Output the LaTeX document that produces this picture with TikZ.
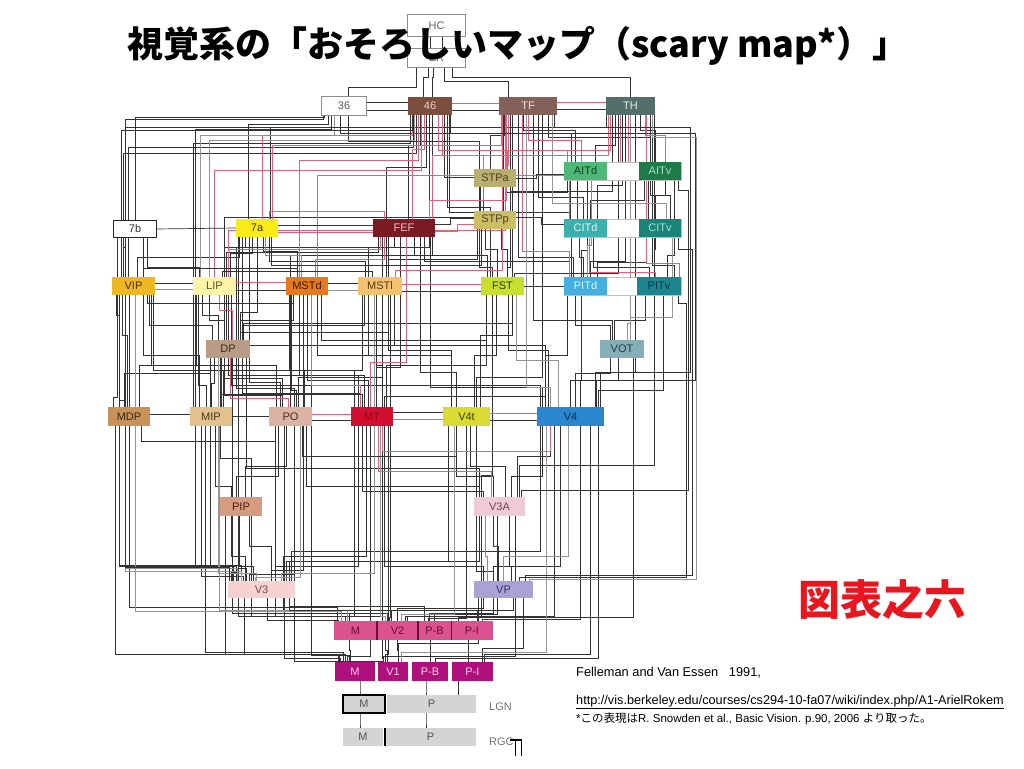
\documentclass[tikz,border=0pt]{standalone}
\usepackage{fontspec}
\setmainfont{Liberation Sans}
\newfontfamily\jp{Noto Sans CJK JP}
\usetikzlibrary{calc}
\pgfdeclarelayer{bg}
\pgfsetlayers{bg,main}
\definecolor{w46}{HTML}{7B4E3E}\definecolor{t46}{HTML}{F0D0C8}
\definecolor{wTF}{HTML}{836058}\definecolor{tTF}{HTML}{F2E2E2}
\definecolor{wTH}{HTML}{536F6C}\definecolor{tTH}{HTML}{E0EEEE}
\definecolor{wSTPa}{HTML}{B9AD70}\definecolor{tSTP}{HTML}{4A4020}
\definecolor{wSTPp}{HTML}{CBBD66}
\definecolor{wAITd}{HTML}{4DB878}\definecolor{tAITd}{HTML}{10401F}
\definecolor{wAITv}{HTML}{1E7A48}\definecolor{tAITv}{HTML}{A8E6B8}
\definecolor{wCITd}{HTML}{3BB0AC}\definecolor{tCITd}{HTML}{DDF5F3}
\definecolor{wCITv}{HTML}{1B8478}\definecolor{tCITv}{HTML}{9FE3DA}
\definecolor{wPITd}{HTML}{45B0E0}\definecolor{tPITd}{HTML}{DFF3FB}
\definecolor{wPITv}{HTML}{1D8590}\definecolor{tPITv}{HTML}{0B3540}
\definecolor{wVOT}{HTML}{86AEB6}\definecolor{tVOT}{HTML}{1E3E48}
\definecolor{w7a}{HTML}{F8EC1A}\definecolor{t7a}{HTML}{3A3000}
\definecolor{wFEF}{HTML}{7A1A24}\definecolor{tFEF}{HTML}{F0C0C4}
\definecolor{wVIP}{HTML}{EDB824}\definecolor{tVIP}{HTML}{4A3000}
\definecolor{wLIP}{HTML}{FFF4A8}\definecolor{tLIP}{HTML}{5A5020}
\definecolor{wMSTd}{HTML}{E37A20}\definecolor{tMSTd}{HTML}{3A1800}
\definecolor{wMSTl}{HTML}{F4C270}\definecolor{tMSTl}{HTML}{5A3810}
\definecolor{wFST}{HTML}{C8DE30}\definecolor{tFST}{HTML}{2A3A00}
\definecolor{wDP}{HTML}{B99C88}\definecolor{tDP}{HTML}{3A2A20}
\definecolor{wMDP}{HTML}{C8925A}\definecolor{tMDP}{HTML}{3A2410}
\definecolor{wMIP}{HTML}{E4C08C}\definecolor{tMIP}{HTML}{4A3820}
\definecolor{wPO}{HTML}{DCB2A2}\definecolor{tPO}{HTML}{4A2A20}
\definecolor{wMT}{HTML}{D20F30}\definecolor{tMT}{HTML}{8A0818}
\definecolor{wV4t}{HTML}{DADA32}\definecolor{tV4t}{HTML}{404000}
\definecolor{wV4}{HTML}{2A86CF}\definecolor{tV4}{HTML}{0A2A50}
\definecolor{wPIP}{HTML}{D69C82}\definecolor{tPIP}{HTML}{4A2010}
\definecolor{wV3A}{HTML}{F2CAD6}\definecolor{tV3A}{HTML}{6A4050}
\definecolor{wV3}{HTML}{F8D2D2}\definecolor{tV3}{HTML}{7A4A4A}
\definecolor{wVP}{HTML}{AAA2D4}\definecolor{tVP}{HTML}{3A3070}
\definecolor{wVtwo}{HTML}{DA5290}\definecolor{tVtwo}{HTML}{6A0E3A}
\definecolor{wVone}{HTML}{B0107C}\definecolor{tVone}{HTML}{F8D0E8}
\definecolor{wLG}{HTML}{D4D4D4}\definecolor{tLG}{HTML}{555555}
\definecolor{pinkw}{HTML}{E2607A}
\definecolor{redt}{HTML}{E8161E}
\newcommand\mkarea[8]{\node[area,fill=#6,text=#7,minimum width=#4pt,minimum height=#5pt] (#1) at (#2,#3) {#8};}
\begin{document}
\begin{tikzpicture}[x=1pt,y=-1pt,
  area/.style={inner sep=0pt,font=\fontsize{11}{13}\selectfont},
  wire/.style={draw=black!80,line width=0.7pt},
  wgray/.style={draw=black!42,line width=0.9pt},
  wpink/.style={draw=pinkw,line width=0.6pt},
  whitebox/.style={draw=black!45,line width=0.8pt},
  gapbox/.style={fill=white,draw=black!25,line width=0.6pt}]
\useasboundingbox (0,0) rectangle (1024,768);
% ---------- areas ----------
\mkarea{aHC}{436.5}{25.5}{57}{21}{white}{black!60}{HC}
\mkarea{aER}{436.5}{58}{57}{18}{white}{black!60}{ER}
\mkarea{a36}{344}{106}{44}{18}{white}{black!65}{36}
\mkarea{a46}{430}{106}{44}{18}{w46}{t46}{46}
\mkarea{aTF}{528}{106}{58}{18}{wTF}{tTF}{TF}
\mkarea{aTH}{630.5}{106}{49}{18}{wTH}{tTH}{TH}
\mkarea{aSTPa}{495}{178}{42}{18}{wSTPa}{tSTP}{STPa}
\mkarea{aAITd}{585.5}{171}{43}{18}{wAITd}{tAITd}{AITd}
\mkarea{aAITv}{660}{171}{42}{18}{wAITv}{tAITv}{AITv}
\mkarea{a7b}{135}{229}{42}{16}{white}{black!80}{7b}
\mkarea{a7a}{257}{228}{42}{18}{w7a}{t7a}{7a}
\mkarea{aFEF}{404}{228}{62}{18}{wFEF}{tFEF}{FEF}
\mkarea{aSTPp}{495}{220}{42}{18}{wSTPp}{tSTP}{STPp}
\mkarea{aCITd}{585.5}{228}{43}{18}{wCITd}{tCITd}{CITd}
\mkarea{aCITv}{660}{228}{42}{18}{wCITv}{tCITv}{CITv}
\mkarea{aVIP}{133.5}{286}{43}{18}{wVIP}{tVIP}{VIP}
\mkarea{aLIP}{214.5}{286}{43}{18}{wLIP}{tLIP}{LIP}
\mkarea{aMSTd}{307}{286}{42}{18}{wMSTd}{tMSTd}{MSTd}
\mkarea{aMSTl}{380}{286}{44}{18}{wMSTl}{tMSTl}{MSTl}
\mkarea{aFST}{502.5}{286}{43}{18}{wFST}{tFST}{FST}
\mkarea{aPITd}{585.5}{286}{43}{18}{wPITd}{tPITd}{PITd}
\mkarea{aPITv}{659}{286}{44}{18}{wPITv}{tPITv}{PITv}
\mkarea{aDP}{228}{349}{44}{18}{wDP}{tDP}{DP}
\mkarea{aVOT}{622}{349}{44}{18}{wVOT}{tVOT}{VOT}
\mkarea{aMDP}{129}{416.5}{42}{19}{wMDP}{tMDP}{MDP}
\mkarea{aMIP}{211}{416.5}{42}{19}{wMIP}{tMIP}{MIP}
\mkarea{aPO}{290.5}{416.5}{43}{19}{wPO}{tPO}{PO}
\mkarea{aMT}{372}{416.5}{42}{19}{wMT}{tMT}{MT}
\mkarea{aV4t}{466.5}{416.5}{47}{19}{wV4t}{tV4t}{V4t}
\mkarea{aV4}{570.5}{416.5}{67}{19}{wV4}{tV4}{V4}
\mkarea{aPIP}{241}{506.5}{42}{19}{wPIP}{tPIP}{PIP}
\mkarea{aV3A}{499.5}{506.5}{51}{19}{wV3A}{tV3A}{V3A}
\mkarea{aV3}{261.5}{589.5}{67}{17}{wV3}{tV3}{V3}
\mkarea{aVP}{503.5}{589.5}{59}{17}{wVP}{tVP}{VP}
\mkarea{aM2}{355.5}{630.5}{43}{19}{wVtwo}{tVtwo}{M}
\mkarea{aV2}{397.5}{630.5}{41}{19}{wVtwo}{tVtwo}{V2}
\mkarea{aPB2}{434.5}{630.5}{33}{19}{wVtwo}{tVtwo}{P-B}
\mkarea{aPI2}{472}{630.5}{41}{19}{wVtwo}{tVtwo}{P-I}
\mkarea{aM1}{355}{671.5}{40}{19}{wVone}{tVone}{M}
\mkarea{aV1}{393}{671.5}{30}{19}{wVone}{tVone}{V1}
\mkarea{aPB1}{430}{671.5}{36}{19}{wVone}{tVone}{P-B}
\mkarea{aPI1}{472.5}{671.5}{41}{19}{wVone}{tVone}{P-I}
\mkarea{aLM}{364}{704}{42}{18}{wLG}{tLG}{M}
\mkarea{aLP}{431.5}{704}{89}{18}{wLG}{tLG}{P}
\mkarea{aRM}{363}{737}{40}{18}{wLG}{tLG}{M}
\mkarea{aRP}{430.5}{737}{91}{18}{wLG}{tLG}{P}
\node[area,text=black!55,anchor=west] (lLGN) at (489,707) {LGN};
\node[area,text=black!55,anchor=west] (lRGC) at (489,742) {RGC};
% borders
\draw[whitebox] (aHC.north west) rectangle (aHC.south east);
\draw[whitebox] (aER.north west) rectangle (aER.south east);
\draw[whitebox] (a36.north west) rectangle (a36.south east);
\draw[draw=black!85,line width=1pt] (a7b.north west) rectangle (a7b.south east);
\draw[draw=black,line width=1.6pt] (aLM.north west) rectangle (aLM.south east);
\draw[draw=black,line width=2pt] (aRP.north west) -- (aRP.south west);
\foreach \n in {aV2,aPB2,aPI2} \draw[draw=tVtwo,line width=1.6pt] (\n.north west) -- (\n.south west);
\draw[line width=1.2pt] (lRGC.north east) ++(-4,2) -- ++(12,0) -- ++(0,16);
\draw[line width=1.2pt] (lRGC.north east) ++(2,2) -- ++(0,16);
% ---------- connectors ----------
\begin{pgfonlayer}{bg}
\draw[wire] ([xshift=-6]aHC.south) -- ([xshift=-6]aER.north);
\draw[wire] ([xshift=6]aHC.south) -- ([xshift=6]aER.north);
% simple drop routes (dark)
\foreach \u/\l/\a/\b/\d in {
 aER/a46/-8/-7/10, aER/a46/-3/2/10, aER/a36/-20/4/20, aER/aTF/8/-20/14, aER/aTH/16/0/10,
 a36/a7b/-20/0/2, a36/a7a/-16/-9/9, a36/aMIP/-13/-16/14, a36/aAITd/-4/-14/18, a36/aSTPa/4/-16/26,
 a46/aVIP/-14/-10/38, a46/aMSTl/-4/6/52, a46/aSTPp/14/-15/62, a46/aFST/17/-12/92,
 a46/aDP/-1/8/132, a46/aPO/2/0/140, a46/aCITd/19/-15/97, a46/aMIP/-20/-18/28, a46/aVIP/-17/-5/32,
 a46/aFEF/-10/4/30,
 aTF/aSTPa/-24/-5/20, aTF/aAITv/20/-10/22, aTF/aCITd/10/-2/82, aTF/aPITd/-10/-12/142,
 aTF/aFST/-18/5/152, aTF/aVOT/5/-10/205, aTF/aLIP/-25/10/102, aTF/aV4t/14/10/262, aTF/aDP/-16/15/208,
 aTF/aAITd/-5/-10/15,
 aTH/aAITd/-15/10/30, aTH/aCITd/-8/12/70, aTH/aCITv/20/10/80, aTH/aPITv/22/15/150,
 aTH/aPITd/-5/5/146, aTH/aSTPp/-18/15/76, aTH/aFST/-12/12/158, aTH/aV4/5/25/257, aTH/aV3A/24/20/350,
 aTH/a7a/-24/13/12, aTH/aAITv/10/-5/15,
 aAITd/aCITd/-15/-15/10, aAITd/aCITd/-8/-8/10, aAITd/aPITd/2/-4/70, aAITd/aSTPp/-18/10/12,
 aAITv/aCITv/-12/-12/10, aAITv/aCITv/5/-5/15, aAITv/aPITv/14/8/75, aAITv/aCITd/-16/5/20,
 aCITd/aPITd/-14/-14/15, aCITd/aPITd/-6/-2/20, aCITd/aPITv/8/-10/30, aCITv/aPITv/-5/-5/12,
 aCITv/aPITd/-14/12/25, aPITd/aVOT/-10/-12/30, aPITv/aVOT/-14/-8/25,
 aPITd/aV4/-18/-25/60, aPITd/aV4/-4/0/85, aPITv/aV4/4/28/95, aVOT/aV4/-12/5/15, aVOT/aV4/-4/10/22,
 aSTPa/aSTPp/-12/-12/5, aSTPa/aSTPp/10/10/5, aSTPa/aFST/-16/-10/80,
 aSTPp/aFST/-10/-5/20, aSTPp/aFST/6/5/20, aSTPp/aMSTl/-18/8/30,
 aFEF/aLIP/-26/12/15, aFEF/aMSTl/-10/-12/10, aFEF/aFST/10/-15/18, aFEF/aPITd/20/-16/24,
 aFEF/aV4/26/-28/150, aFEF/aMT/-4/4/130, aFEF/aDP/-16/12/95, aFEF/aPO/-22/8/140, aFEF/aV4t/16/-10/135,
 a7a/aLIP/-12/10/10, a7a/aLIP/-5/16/16, a7a/aVIP/-18/10/20, a7a/aMSTd/6/-10/14, a7a/aMSTl/12/-15/24,
 a7a/aDP/0/12/75, a7a/aPO/-8/-10/145, a7a/aMIP/-15/10/120,
 a7b/aVIP/-10/-10/10, a7b/aVIP/8/4/20, a7b/aLIP/12/-15/30, a7b/aMDP/-18/-16/160,
 aVIP/aMDP/-17/-10/20, aVIP/aMDP/-11/-2/40, aVIP/aMIP/10/-12/60, aVIP/aDP/16/-16/30,
 aVIP/aPO/18/-14/70, aVIP/aMT/20/-18/75,
 aLIP/aDP/-12/-10/20, aLIP/aDP/-5/-4/25, aLIP/aMIP/-16/-5/90, aLIP/aPO/10/-8/100,
 aLIP/aMT/14/-14/80, aLIP/aV4/17/-30/90, aLIP/aMDP/-18/10/70,
 aMSTd/aDP/-14/12/25, aMSTd/aMT/-8/-8/80, aMSTd/aMT/0/-4/85, aMSTd/aPO/-16/6/95,
 aMSTd/aMIP/-18/12/75, aMSTd/aV4t/10/-15/60,
 aMSTl/aMT/-12/4/60, aMSTl/aMT/-4/10/70, aMSTl/aV4t/8/-15/55, aMSTl/aV4/14/-25/50,
 aMSTl/aPO/-18/14/75, aMSTl/aDP/-16/14/30,
 aFST/aMT/-16/14/70, aFST/aV4t/-6/8/60, aFST/aV4/6/-22/55, aFST/aV3A/-10/-18/180, aFST/aV4t/10/14/40,
 aDP/aPO/-4/-8/20, aDP/aPO/8/4/30, aDP/aMIP/-14/0/25, aDP/aMDP/-18/-5/15, aDP/aMT/14/-12/35,
 aDP/aV3A/18/-20/110, aDP/aPIP/-8/10/100,
 aMDP/aV3/-10/-25/140, aMIP/aV3/-10/-18/150, aMIP/aPIP/4/-10/60,
 aPO/aPIP/-12/-5/50, aPO/aPIP/-4/4/40, aPO/aV3/4/-12/148, aPO/aV3A/16/-20/60,
 aMT/aV3A/-10/-16/65, aMT/aV3/-14/14/140, aMT/aV3/-6/22/130, aMT/aVP/12/-20/140,
 aV4t/aV3A/-10/-6/50, aV4t/aV3A/4/6/40, aV4t/aV3/-18/28/135, aV4t/aVP/10/-10/145,
 aV4/aV3A/-28/12/50, aV4/aV3A/-20/18/30, aV4/aVP/-10/-10/140, aV4/aV3/-30/30/125,
 aPIP/aV3/-10/-16/40, aPIP/aV3/-2/-8/50, aPIP/aV3/8/10/30,
 aV3A/aVP/-6/-5/30, aV3A/aVP/10/8/50, aV3A/aV3/-20/25/45,
 aV3/aM2/6/-17/22, aV3/aM1/-17/-17/56, aV3/aV2/14/-10/15, aV3/aV2/22/-6/12, aV3/aPB2/28/-10/8,
 aVP/aV2/-20/0/10, aVP/aPB2/-10/-5/15, aVP/aPI2/10/5/12, aVP/aPI1/20/10/50, aVP/aV1/-25/5/45,
 aM2/aM1/-6/-5/10, aV2/aV1/-12/-6/10, aV2/aV1/0/5/10, aPB2/aPB1/-4/0/10, aPI2/aPI1/-4/-4/10,
 aM1/aLM/5/-4/10, aPB1/aLP/-4/-5.5/10, aPI1/aLP/-14/26.5/8, aLM/aRM/-4/-3/10, aLP/aRP/-5.5/-4.5/10,
 aMT/aM2/-18/-10/190, aMT/aM1/-2/-8/230, aMT/aV1/16/-8/228, aV4t/aPB2/0/-6/192,
 aV4/aPI2/10/10/193, aV4/aPI1/20/12/228, aV4/aPB1/28/5/232, aV4/aV2/-16/8/190,
 aV3A/aV2/-18/10/100, aV3A/aPB2/-2/0/98, aV3A/aV1/16/-10/140, aVOT/aPI2/11/-14/259,
 aPO/aM2/-15/-14/190, aPO/aM1/-6/-15/232, aPO/aV1/4/-10/235, aPIP/aM2/10/-6/100, aPIP/aM1/-16/-10/138,
 aVIP/aV3/-14/-28/270, aVIP/aM2/-4/-18/312, aMDP/aM1/-14/-16/228, aMIP/aM1/-6/-12/226,
 aLIP/aV3/-19/-20/270, a7a/aV3/-19/-30/335, aDP/aV3/-18/-15/210, aDP/aM2/4/-6/255, aDP/aV2/10/-12/258,
 aMSTd/aV3/-4/10/275, aMSTd/aM1/4/-6/360, aMSTl/aV1/2/-10/363, aMSTl/aV2/10/-8/322}
 \draw[wire] ([xshift=\a]\u.south) -- ++(0,\d) -| ([xshift=\b]\l.north);
% simple drop routes (gray)
\foreach \u/\l/\a/\b/\d in {
 aVIP/aV3/-8/-24/273, aVIP/aM2/2/-14/316, aMDP/aV3/-4/-20/145, aMIP/aM2/8/-8/184,
 aDP/aV3/-10/-5/215, aPO/aV3/10/-6/151, aMT/aV2/8/-12/190, aV4/aV1/-24/8/226, aV4/aVP/-2/0/130,
 aV4t/aV2/-12/4/188, aTF/aV4/-2/-20/272, aTH/aVOT/0/5/208, aTF/aCITv/24/6/88, a46/aLIP/-16/-5/25,
 a36/aLIP/-10/-14/20, aFST/aV4/14/-12/65, aMSTl/aV3/-6/20/278, aCITv/aVOT/12/8/80}
 \draw[wgray] ([xshift=\a]\u.south) -- ++(0,\d) -| ([xshift=\b]\l.north);
% simple drop routes (pink)
\foreach \u/\l/\a/\b/\d in {
 a46/a7a/-18/5/20, a46/aFEF/-6/8/34, a46/aMSTd/-12/-8/45, a46/aLIP/-9/0/55, a46/aSTPa/12/-12/40,
 a46/aAITd/8/-18/35, aTF/aAITd/0/-4/25, aTF/aFEF/-22/25/85, aTF/a7a/-27/15/30, aTF/aMSTl/-26/15/155,
 aTF/aSTPp/-20/10/50, aTF/aPITd/-6/-16/136, aTF/aLIP/-23/14/115, aTH/aAITv/15/5/20, aTH/aSTPa/-20/12/35,
 aTH/aFEF/-22/28/40, aTH/aMSTd/-10/10/60, aTH/aCITd/-2/-16/65, aTH/aPITv/16/20/148,
 aFEF/aMSTd/-20/8/22, aFEF/aLIP/-24/14/12, aFEF/aMT/2/-2/125, aMT/aV3A/6/-8/45, aV3A/aVP/-14/-16/40,
 aLIP/aDP/5/4/15, a7a/aMSTd/8/-6/18, aMSTd/aMT/4/-12/90, aDP/aPO/2/-2/40, aCITd/aPITv/4/-4/35,
 aAITd/aPITd/6/2/65}
 \draw[wpink] ([xshift=\a]\u.south) -- ++(0,\d) -| ([xshift=\b]\l.north);
% outer frame routes
\foreach \u/\l/\a/\b/\d/\dx/\dy in {
 a36/aMDP/-21/-10/4/-198/281, a46/aVIP/-18/-12/15/-290.5/140, aTF/aV4/26/30/12/136/245,
 a46/aV4/20/26/18/245/247, aAITv/aV3A/18/22/10/10/300, aCITv/aVP/18/22/12/14/326,
 aPITv/aVP/19/16/8/8/274, a46/aV3/-20/-32/12/-285/440}
 \draw[wire] ([xshift=\a]\u.south) -- ++(0,\d) -| ++(\dx,\dy) -| ([xshift=\b]\l.north);
\foreach \u/\l/\a/\b/\d/\dx/\dy in {aTH/aVP/22/26/22/43.5/442}
 \draw[wgray] ([xshift=\a]\u.south) -- ++(0,\d) -| ++(\dx,\dy) -| ([xshift=\b]\l.north);
% same-row links
\foreach \u/\l/\s in {a36/a46/4, a36/a46/-4, a46/aTF/-4, aTF/aTH/-3, a7b/a7a/0, a7a/aFEF/3,
 aVIP/aLIP/3, aLIP/aMSTd/-4, aMSTd/aMSTl/3, aMSTl/aFST/-5, aFST/aPITd/0, aMDP/aMIP/2,
 aMIP/aPO/0, aPO/aMT/-4, aMT/aV4t/4, aV4t/aV4/-4}
 \draw[wire] ([yshift=\s]\u.east) -- ([yshift=\s]\l.west);
\foreach \u/\l/\s in {a46/aTF/3, aTF/aTH/4, a7a/aFEF/-4, aLIP/aMSTd/4, aMSTl/aFST/2,
 aPO/aMT/2, aMT/aV4t/-3, aV4t/aV4/3}
 \draw[wpink] ([yshift=\s]\u.east) -- ([yshift=\s]\l.west);
\foreach \u/\l/\s in {aVIP/aLIP/-3, aMSTd/aMSTl/-4}
 \draw[wgray] ([yshift=\s]\u.east) -- ([yshift=\s]\l.west);
\foreach \u/\l/\s/\dx/\t in {aFEF/aSTPp/4/15/2, aSTPa/aAITd/0/20/-3, aSTPp/aCITd/3/25/4}
 \draw[wire] ([yshift=\s]\u.east) -- ++(\dx,0) |- ([yshift=\t]\l.west);
\foreach \u/\l/\s/\dx/\t in {aFEF/aSTPp/-3/22/-4}
 \draw[wpink] ([yshift=\s]\u.east) -- ++(\dx,0) |- ([yshift=\t]\l.west);
% U-shaped links below and above a row
\foreach \u/\l/\a/\b/\d in {aMSTd/aFST/14/-16/45, aLIP/aFST/12/-10/50, aPO/aV4t/12/-10/30,
 aMDP/aPO/12/-15/15, aVIP/aMSTd/14/-14/8, aV3/aVP/28/-25/12, a7a/aSTPp/14/-14/28}
 \draw[wire] ([xshift=\a]\u.south) -- ++(0,\d) -| ([xshift=\b]\l.south);
\draw[wpink] ([xshift=10]aMT.south) -- ++(0,25) -| ([xshift=-20]aV4.south);
\foreach \u/\l/\a/\b/\d in {aVIP/aMSTd/10/-10/8, aLIP/aMSTl/8/-8/5, aMIP/aMT/10/-10/12, aMT/aV4/12/-25/10}
 \draw[wire] ([xshift=\a]\u.north) -- ++(0,-\d) -| ([xshift=\b]\l.north);
\draw[wpink] ([xshift=12]a7a.north) -- ++(0,-8) -| ([xshift=-20]aFEF.north);
% gaps between paired IT areas
\draw[gapbox] (aAITd.north west) rectangle (aAITv.south east);
\draw[gapbox] (aCITd.north west) rectangle (aCITv.south east);
\draw[gapbox] (aPITd.north west) rectangle (aPITv.south east);
\end{pgfonlayer}
% ---------- texts ----------
\node[font=\jp\bfseries\fontsize{36}{42}\selectfont,text=black,inner sep=0pt] (title) at (518,46) {視覚系の「おそろしいマップ（scary map*）」};
\node[font=\jp\bfseries\fontsize{42}{48}\selectfont,text=redt,inner sep=0pt] (fig) at (882,600) {図表之六};
\node[font=\fontsize{12.8}{15}\selectfont,anchor=west,inner sep=0pt] (ref1) at (576,673) {Felleman and Van Essen \ \ 1991,};
\node[font=\fontsize{12.7}{15}\selectfont,anchor=west,inner sep=0pt] (ref2) at (576,702) {\underline{http://vis.berkeley.edu/courses/cs294-10-fa07/wiki/index.php/A1-ArielRokem}};
\node[font=\fontsize{11.5}{14}\selectfont,anchor=west,inner sep=0pt] (ref3) at (576,719) {*{\jp この表現は}R. Snowden et al., Basic Vision. p.90, 2006 {\jp より取った。}};
\end{tikzpicture}
\end{document}
